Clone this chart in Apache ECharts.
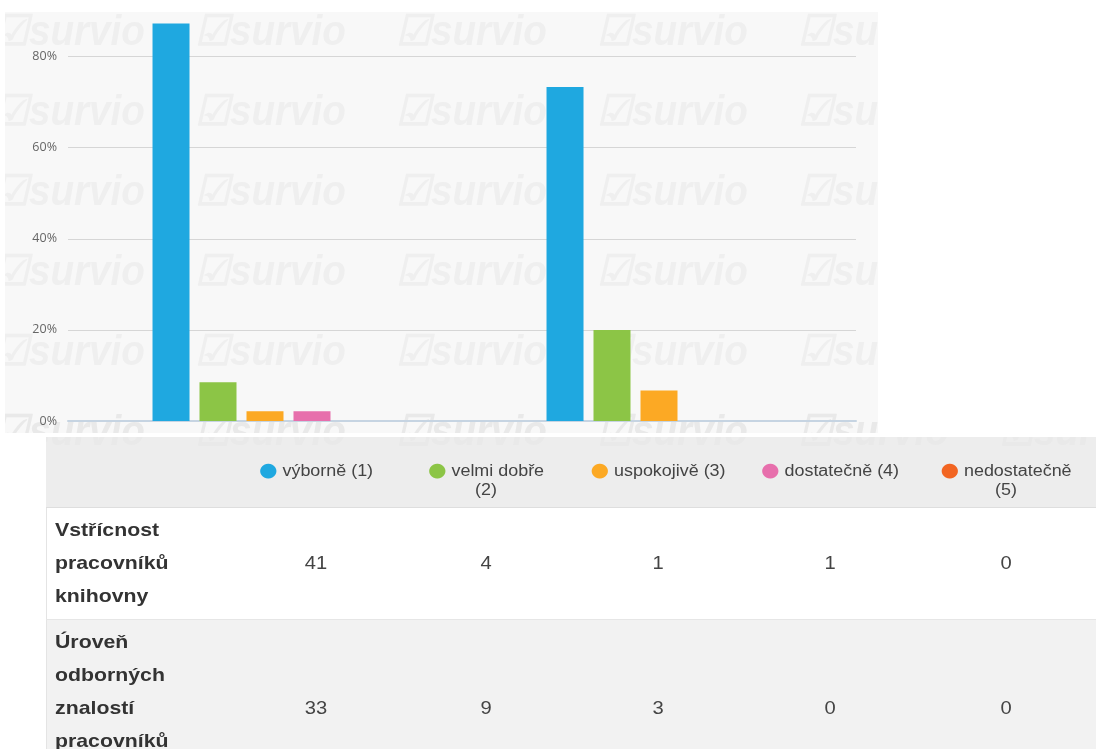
<!DOCTYPE html>
<html>
<head>
<meta charset="utf-8">
<title>Hodnocení pracovníků knihovny</title>
<script src="https://cdn.jsdelivr.net/npm/echarts@6/dist/echarts.min.js"></script>
<style>
  html, body { margin: 0; padding: 0; background: #fff; }
  #chart { width: 1096px; height: 749px; }
</style>
</head>
<body>
<div id="chart"></div>
<script>
// otazky = kategorie osy x
const categories = ["Vstřícnost pracovníků knihovny", "Úroveň odborných znalostí pracovníků knihovny"];
const rowLabels = ["Vstřícnost\npracovníků\nknihovny", "Úroveň\nodborných\nznalostí\npracovníků\nknihovny"];
const seriesNames = ["výborně (1)", "velmi dobře (2)", "uspokojivě (3)", "dostatečně (4)", "nedostatečně (5)"];
const headerLabels = ["výborně (1)", "velmi dobře\n(2)", "uspokojivě (3)", "dostatečně (4)", "nedostatečně\n(5)"];
// pocty odpovedi (z tabulky)
const countsQ1 = [41, 4, 1, 1, 0];
const countsQ2 = [33, 9, 3, 0, 0];
const yTicks = [0, 20, 40, 60, 80];
const colors = ["#1fa8e0", "#8cc546", "#fca924", "#e76fac", "#f26522"];

const allCounts = [countsQ1, countsQ2];
const sum = (a) => a.reduce((s, v) => s + v, 0);

// layout tabulky
const colCenters = [316, 486, 658, 830, 1006];
const headerTop = 437, headerH = 71;
const lineH = 33, rowPad = 23;
const fontTable = '"Liberation Sans", Arial, sans-serif';
const sx = 1.12; // text v puvodnim obrazku je trochu roztazeny

const chart = echarts.init(document.getElementById("chart"));

const graphic = [];
// pozadi grafu
graphic.push({ type: "rect", z: -20, silent: true, shape: { x: 5, y: 12, width: 873, height: 421 }, style: { fill: "#f8f8f8" } });
graphic.push({ type: "rect", z: -20, silent: true, shape: { x: 46, y: headerTop, width: 1050, height: headerH }, style: { fill: "#ededed" } });

// vodoznak survio
for (let r = 0; r < 6; r++) {
  for (let c = 0; c < 6; c++) {
    graphic.push({
      type: "text", z: -15, silent: true,
      x: -6 + c * 201, y: 12 + r * 80,
      scaleX: 0.92,
      style: {
        text: "☑survio",
        font: 'italic bold 42px "Liberation Sans", Arial, sans-serif',
        fill: r === 5 ? "#e9e9e9" : "#efefef"
      }
    });
  }
}

// zakryti okraju
graphic.push({ type: "rect", z: -10, silent: true, shape: { x: 0, y: 0, width: 1096, height: 12 }, style: { fill: "#fff" } });
graphic.push({ type: "rect", z: -10, silent: true, shape: { x: 0, y: 0, width: 5, height: 437 }, style: { fill: "#fff" } });
graphic.push({ type: "rect", z: -10, silent: true, shape: { x: 878, y: 0, width: 218, height: 437 }, style: { fill: "#fff" } });
graphic.push({ type: "rect", z: -10, silent: true, shape: { x: 0, y: 433, width: 1096, height: 4 }, style: { fill: "#fff" } });
graphic.push({ type: "rect", z: -10, silent: true, shape: { x: 0, y: headerTop, width: 46, height: 312 }, style: { fill: "#fff" } });

// hlavicka tabulky (legenda)
const rich = {};
colors.forEach((c, i) => { rich["d" + i] = { fill: c, fontSize: 19, fontFamily: "DejaVu Sans", lineHeight: 19 }; });
headerLabels.forEach((t, i) => {
  graphic.push({
    type: "text", z: 2, silent: true,
    x: colCenters[i], y: 462,
    scaleX: sx,
    style: {
      text: "{d" + i + "|●} " + t,
      align: "center", verticalAlign: "top",
      font: "16px " + fontTable, fill: "#444",
      lineHeight: 19, rich: rich
    }
  });
});
graphic.push({ type: "rect", z: 1, silent: true, shape: { x: 46, y: headerTop + headerH - 1, width: 1050, height: 1 }, style: { fill: "#dedede" } });

// radky tabulky
let rowY = headerTop + headerH;
rowLabels.forEach((label, r) => {
  const n = label.split("\n").length;
  const h = rowPad * 2 + (n - 1) * lineH;
  graphic.push({ type: "rect", z: -10, silent: true, shape: { x: 46, y: rowY, width: 1050, height: h }, style: { fill: r % 2 ? "#f2f2f2" : "#fff" } });
  graphic.push({ type: "rect", z: 1, silent: true, shape: { x: 46, y: rowY, width: 1, height: h }, style: { fill: "#e4e4e4" } });
  graphic.push({ type: "rect", z: 1, silent: true, shape: { x: 46, y: rowY + h - 1, width: 1050, height: 1 }, style: { fill: "#e6e6e6" } });
  graphic.push({
    type: "text", z: 2, silent: true,
    x: 55, y: rowY + rowPad - lineH / 2,
    scaleX: sx,
    style: { text: label, font: "bold 19px " + fontTable, fill: "#333", lineHeight: lineH, verticalAlign: "top" }
  });
  const midY = rowY + rowPad + (n - 1) * lineH / 2;
  allCounts[r].forEach((v, i) => {
    graphic.push({
      type: "text", z: 2, silent: true,
      x: colCenters[i], y: midY,
      scaleX: sx,
      style: { text: String(v), font: "18px " + fontTable, fill: "#444", align: "center", verticalAlign: "middle" }
    });
  });
  rowY += h;
});

const series = seriesNames.map((name, i) => ({
  name: name,
  type: "bar",
  barWidth: 37,
  barGap: "27%",
  itemStyle: { color: colors[i] },
  data: allCounts.map((row) => +(row[i] / sum(row) * 100).toFixed(2))
}));

const option = {
  animation: false,
  backgroundColor: "transparent",
  grid: { left: 68, right: 240, top: 11, bottom: 328 },
  xAxis: {
    type: "category",
    data: categories,
    axisLine: { lineStyle: { color: "#c6d4e2", width: 2 } },
    axisTick: { alignWithLabel: true, length: 5, lineStyle: { color: "#c0d0e0" } },
    axisLabel: { show: false }
  },
  yAxis: {
    type: "value",
    min: yTicks[0],
    max: 90,
    interval: yTicks[1] - yTicks[0],
    axisLine: { show: false },
    axisTick: { show: false },
    axisLabel: {
      showMaxLabel: false,
      margin: 11,
      color: "#666",
      fontSize: 12.5,
      fontFamily: '"Open Sans", sans-serif',
      formatter: "{value}%"
    },
    splitLine: { showMaxLine: false, lineStyle: { color: "#d6d6d6" } }
  },
  graphic: graphic,
  series: series
};
option && chart.setOption(option);
</script>
</body>
</html>
